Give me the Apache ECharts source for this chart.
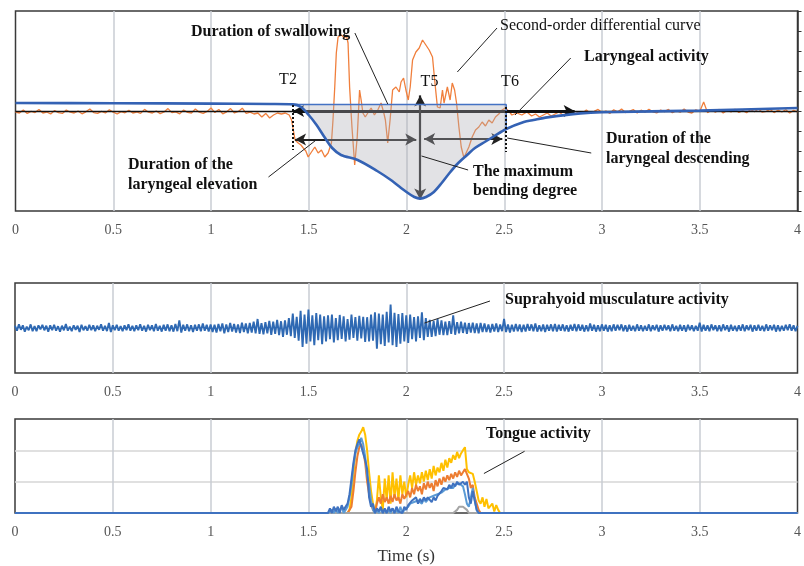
<!DOCTYPE html>
<html><head><meta charset="utf-8">
<script src="https://cdn.jsdelivr.net/npm/echarts@6/dist/echarts.min.js"></script>
<style>html,body{margin:0;padding:0;background:#fff}#c{width:804px;height:566px}</style>
</head><body><div id="c"></div>
<script>
// ---------- DATA ----------
const xTicks = [0, 0.5, 1, 1.5, 2, 2.5, 3, 3.5, 4];
const eventNames = ['T2', 'T5', 'T6'];
const eventTimes = [1.42, 2.07, 2.51];
const shadeTop = 0.33;

// second-order differential curve (orange), top panel
const orangePreStart = 0, orangePreStep = 0.02;
const orangePre = [-0.05,-0.1,0.05,-0.12,-0.02,-0.08,0.08,-0.1,-0.05,-0.15,
  0.02,-0.08,-0.12,0.05,-0.06,-0.1,0.0,-0.14,-0.04,0.1,
  -0.08,-0.12,-0.02,-0.1,0.06,-0.06,-0.15,-0.03,-0.09,0.04,
  -0.1,-0.05,-0.12,0.08,-0.06,-0.1,0.0,-0.13,-0.05,0.12,
  -0.08,-0.04,-0.14,0.05,-0.07,-0.1,0.1,-0.06,-0.12,-0.02,
  0.15,-0.08,0.08,-0.14,-0.04,0.12,-0.1,-0.02,0.14,-0.12,
  -0.06,-0.15,-0.1,-0.3,-0.12,-0.35,-0.2,-0.1];
const orangeActive = [[1.36,-0.15],[1.38,-0.1],[1.40,-0.2],[1.412,-0.45],[1.421,-0.95],[1.43,-1.45],[1.446,-1.6],[1.46,-1.7],[1.472,-1.85],[1.485,-2.0],[1.497,-2.3],[1.514,-2.05],[1.531,-1.8],[1.548,-2.1],[1.565,-1.95],[1.582,-2.3],[1.599,-2.1],[1.616,-1.6],[1.624,-0.45],[1.633,1.2],[1.641,2.9],[1.650,3.7],[1.667,3.8],[1.684,3.65],[1.692,3.8],[1.701,3.4],[1.709,1.2],[1.721,-0.8],[1.735,-2.7],[1.748,-1.3],[1.760,1.05],[1.768,0.55],[1.777,-0.1],[1.789,-0.3],[1.802,-0.1],[1.819,0.15],[1.836,-0.2],[1.853,0.05],[1.870,0.4],[1.884,-0.1],[1.892,-0.45],[1.904,-1.6],[1.916,-0.45],[1.929,1.05],[1.946,1.2],[1.963,0.95],[1.972,1.45],[1.985,1.65],[1.997,1.05],[2.009,0.55],[2.019,1.2],[2.031,2.55],[2.048,2.95],[2.065,3.15],[2.082,3.55],[2.099,3.3],[2.116,3.05],[2.133,2.7],[2.144,1.55],[2.158,0.2],[2.172,0.15],[2.184,1.05],[2.192,0.4],[2.209,1.2],[2.223,0.55],[2.234,1.4],[2.246,1.05],[2.256,0.4],[2.268,-0.8],[2.280,-1.8],[2.294,-2.35],[2.307,-2.05],[2.319,-1.8],[2.336,-1.3],[2.353,-0.95],[2.370,-0.8],[2.387,-0.55],[2.404,-0.75],[2.421,-0.45],[2.438,-0.6],[2.455,-0.3],[2.472,-0.15],[2.489,0.05],[2.505,0.15],[2.523,0.0],[2.539,-0.2],[2.565,-0.1],[2.590,-0.2],[2.616,-0.05]];
const orangePostStart = 2.64, orangePostStep = 0.02;
const orangePost = [-0.25,-0.15,-0.3,-0.2,-0.1,-0.25,-0.15,-0.05,-0.2,-0.1,0.0,-0.15,-0.05,-0.1,
  0.05,-0.1,-0.02,0.08,-0.08,0.0,-0.12,0.06,-0.05,0.1,
  -0.08,-0.02,0.07,-0.1,0.04,-0.06,0.09,-0.04,-0.1,0.05,
  -0.03,0.08,-0.09,0.02,-0.06,0.1,-0.05,-0.1,0.06,-0.02,
  0.45,-0.08,0.05,-0.06,0.08,-0.1,0.03,-0.05,0.09,-0.07,
  0.02,-0.09,0.07,-0.04,0.1,-0.06,-0.02,0.08,-0.08,0.04,
  -0.05,0.06,-0.1,0.03,-0.04];

// laryngeal activity (blue), top panel
const laryngeal = [[0,0.4],[0.5,0.39],[1.0,0.37],[1.3,0.35],[1.42,0.33],[1.46,0.2],[1.5,-0.2],[1.54,-0.7],[1.58,-1.3],[1.62,-1.85],[1.665,-2.2],[1.75,-2.45],[1.85,-3.0],[1.92,-3.45],[2.0,-4.05],[2.04,-4.3],[2.07,-4.38],[2.1,-4.3],[2.14,-4.05],[2.18,-3.6],[2.22,-3.1],[2.26,-2.65],[2.31,-2.2],[2.35,-1.85],[2.40,-1.55],[2.45,-1.25],[2.51,-0.9],[2.6,-0.55],[2.65,-0.45],[2.72,-0.32],[2.89,-0.12],[3.0,-0.06],[3.5,0.02],[4.0,0.15]];

// suprahyoid musculature activity (EMG), middle panel, sampled every 0.01 s
const emgStart = 0, emgStep = 0.01;
const emg = [
  0.05,-0.06,0.08,-0.04,0.06,-0.08,0.03,-0.05,0.08,-0.07,0.04,-0.07,0.06,-0.03,0.07,-0.05,0.05,-0.08,0.06,-0.05,
  0.07,-0.06,0.04,-0.08,0.05,-0.05,0.09,-0.06,0.03,-0.07,0.06,-0.04,0.05,-0.09,0.07,-0.05,0.04,-0.06,0.07,-0.05,
  0.06,-0.07,0.05,-0.04,0.08,-0.06,0.05,-0.07,0.11,-0.09,0.06,-0.05,0.07,-0.06,0.04,-0.07,0.06,-0.05,0.08,-0.06,
  0.05,-0.07,0.06,-0.05,0.08,-0.06,0.05,-0.08,0.07,-0.05,0.06,-0.07,0.09,-0.06,0.05,-0.08,0.07,-0.06,0.08,-0.07,
  0.06,-0.08,0.09,-0.07,0.17,-0.1,0.07,-0.06,0.08,-0.07,0.06,-0.09,0.07,-0.06,0.08,-0.07,0.1,-0.06,0.07,-0.08,
  0.08,-0.09,0.07,-0.1,0.09,-0.07,0.1,-0.12,0.08,-0.09,0.11,-0.08,0.09,-0.1,0.08,-0.11,0.12,-0.09,0.1,-0.12,
  0.11,-0.1,0.14,-0.12,0.2,-0.13,0.11,-0.14,0.13,-0.12,0.16,-0.15,0.14,-0.13,0.18,-0.16,0.15,-0.2,0.17,-0.15,
  0.22,-0.18,0.32,-0.22,0.25,-0.28,0.38,-0.42,0.3,-0.35,0.41,-0.3,0.28,-0.38,0.33,-0.27,0.3,-0.36,0.26,-0.3,
  0.28,-0.25,0.3,-0.32,0.22,-0.27,0.29,-0.24,0.26,-0.3,0.2,-0.26,0.3,-0.22,0.24,-0.28,0.27,-0.23,0.25,-0.31,
  0.24,-0.3,0.3,-0.28,0.35,-0.46,0.32,-0.36,0.3,-0.4,0.36,-0.32,0.52,-0.38,0.34,-0.42,0.31,-0.35,0.33,-0.3,
  0.28,-0.33,0.3,-0.25,0.24,-0.3,0.26,-0.22,0.35,-0.27,0.22,-0.2,0.18,-0.2,0.16,-0.18,0.2,-0.15,0.17,-0.16,
  0.14,-0.16,0.15,-0.13,0.28,-0.15,0.13,-0.12,0.14,-0.11,0.12,-0.13,0.11,-0.1,0.12,-0.11,0.1,-0.12,0.11,-0.09,
  0.1,-0.09,0.08,-0.1,0.09,-0.08,0.1,-0.09,0.08,-0.07,0.2,-0.09,0.08,-0.1,0.07,-0.08,0.09,-0.07,0.08,-0.09,
  0.07,-0.08,0.09,-0.06,0.08,-0.07,0.1,-0.08,0.06,-0.07,0.08,-0.09,0.07,-0.06,0.08,-0.07,0.09,-0.08,0.07,-0.06,
  0.08,-0.07,0.06,-0.08,0.07,-0.06,0.09,-0.07,0.08,-0.06,0.07,-0.08,0.06,-0.07,0.1,-0.06,0.07,-0.08,0.06,-0.07,
  0.08,-0.06,0.07,-0.08,0.06,-0.07,0.08,-0.06,0.07,-0.05,0.08,-0.07,0.06,-0.08,0.07,-0.06,0.05,-0.07,0.08,-0.06,
  0.06,-0.07,0.05,-0.06,0.08,-0.07,0.06,-0.05,0.07,-0.08,0.06,-0.06,0.07,-0.05,0.06,-0.07,0.08,-0.06,0.05,-0.07,
  0.07,-0.06,0.06,-0.08,0.07,-0.05,0.06,-0.07,0.05,-0.06,0.12,-0.08,0.07,-0.06,0.06,-0.07,0.08,-0.05,0.06,-0.07,
  0.06,-0.07,0.08,-0.05,0.06,-0.08,0.07,-0.06,0.05,-0.07,0.06,-0.06,0.08,-0.07,0.06,-0.05,0.07,-0.08,0.06,-0.06,
  0.07,-0.06,0.05,-0.07,0.08,-0.06,0.06,-0.05,0.07,-0.08,0.06,-0.07,0.05,-0.06,0.07,-0.05,0.08,-0.06,0.06,-0.07,
  0.05];

// tongue activity, bottom panel, sampled every 0.01 s from 1.60 s to 2.50 s
const tongueStart = 1.60, tongueStep = 0.01;
const tongueYellow = [0,0,0,0,0,0,0,0,0,0,
  0,0.1,0.5,1.2,1.9,2.3,2.5,2.6,2.74,2.5,
  2.0,1.3,0.7,0.3,0,0.4,1.2,0.5,0.1,1.1,
  0.4,1.2,0.3,1.3,0.5,1.1,0.4,1.2,0.6,1.0,
  0.5,0.9,1.2,0.8,1.3,0.9,1.2,0.95,1.3,1.0,
  1.35,1.05,1.4,1.1,1.5,1.2,1.45,1.3,1.6,1.35,
  1.7,1.45,1.75,1.6,1.85,1.7,1.95,1.75,1.9,2.0,
  2.1,1.4,1.3,1.35,1.25,1.0,0.7,0.4,0.3,0.5,
  0.2,0.45,0.15,0.1,0.3,0.05,0.25,0.1,0,0,
  0];
const tongueOrange = [0,0,0,0,0,0,0,0,0,0,
  0,0,0.2,0.7,1.3,1.8,2.1,2.2,2.0,1.6,
  1.0,0.6,0.3,0.1,0,0.3,0.5,0.3,0.6,0.35,
  0.5,0.3,0.55,0.35,0.6,0.4,0.5,0.3,0.6,0.45,
  0.5,0.7,0.5,0.8,0.6,0.9,0.7,0.85,0.6,0.95,
  0.75,1.0,0.8,0.95,0.7,1.05,0.85,1.1,0.9,1.15,
  1.0,1.2,1.05,1.25,1.1,1.3,1.15,1.35,1.2,1.3,
  1.4,1.42,1.1,0.8,0.9,0.5,0.3,0.1,0,0,
  0,0,0,0,0,0,0,0,0,0,
  0];
const tongueGray = [0,0,0,0,0,0,0,0,0,0,
  0,0,0,0,0,0,0,0,0,0,
  0,0,0,0,0,0,0,0,0,0,
  0,0,0,0,0,0,0,0,0,0,
  0,0,0,0,0,0,0,0,0,0,
  0,0,0,0,0,0,0,0,0,0,
  0,0,0,0,0,0,0.1,0.2,0.15,0.2,
  0.2,0.1,0,0,0,0,0,0,0,0,
  0,0,0,0,0,0,0,0,0,0,
  0];
const tongueBlue = [0,0.15,0,0.2,0.05,0.2,0,0.25,0.1,0.15,
  0.3,0.6,1.1,1.6,2.0,2.2,2.35,2.3,1.9,1.7,
  1.4,0.5,0.2,0.3,0,0.15,0.05,0.2,0,0.15,
  0,0.2,0.05,0.15,0,0.2,0.05,0.1,0,0.2,
  0.1,0.25,0.3,0.4,0.35,0.5,0.3,0.45,0.35,0.5,
  0.4,0.5,0.45,0.35,0.5,0.4,0.55,0.6,0.7,0.8,
  0.85,0.75,0.9,0.8,0.95,0.85,1.0,0.9,0.95,1.0,
  0.9,1.0,0.5,0.3,0.7,0.75,0.1,0,0,0,
  0,0,0,0,0,0,0,0,0,0,
  0];
const tongueLightBlue = [0,0,0.1,0,0.15,0,0.1,0.2,0,0.1,
  0.2,0.5,0.9,1.5,1.9,2.1,2.2,2.4,2.2,1.8,
  1.2,0.9,0.4,0.1,0,0.1,0,0.15,0,0.1,
  0,0.1,0,0.15,0,0.1,0,0.2,0,0.1,
  0.15,0.2,0.3,0.25,0.35,0.3,0.4,0.35,0.3,0.45,
  0.35,0.4,0.5,0.45,0.55,0.5,0.6,0.55,0.65,0.7,
  0.75,0.7,0.8,0.85,0.8,0.9,0.85,0.95,0.9,0.85,
  0.6,0.3,0.2,0.5,0.8,0.4,0.1,0,0,0,
  0,0,0,0,0,0,0,0,0,0,
  0];

// ---------- BUILD ----------
function sampled(start, step, vals) { return vals.map((v, i) => [+(start + i * step).toFixed(4), v]); }
const orangeData = sampled(orangePreStart, orangePreStep, orangePre).concat(orangeActive, sampled(orangePostStart, orangePostStep, orangePost));
const emgData = sampled(emgStart, emgStep, emg);
const tongue = vals => [[xTicks[0], 0]].concat(sampled(tongueStart, tongueStep, vals), [[xTicks[xTicks.length - 1], 0]]);
const [T2, T5, T6] = eventTimes;
const shadeData = laryngeal.filter(p => p[0] >= T2 && p[0] <= T6);
const blueAtT6 = laryngeal.find(p => p[0] === T6)[1];

const SERIF = '"Liberation Serif","Times New Roman",serif';
const BOLD = 'bold 16px ' + SERIF;

function ml(lines, style, sym, z) {
  return {
    silent: true, z: z, symbol: sym, symbolSize: [9, 11], label: { show: false },
    lineStyle: style, emphasis: { disabled: true },
    data: lines.map(l => [{ coord: l[0] }, { coord: l[1] }])
  };
}
function holder(xi, yi, z, markLine) {
  return { type: 'line', xAxisIndex: xi, yAxisIndex: yi, z: z, data: [[0, 0]], showSymbol: false, lineStyle: { width: 0 }, silent: true, markLine: markLine };
}

const xAxisBase = (gi) => ({
  gridIndex: gi, type: 'value', min: xTicks[0], max: xTicks[xTicks.length - 1], interval: xTicks[1] - xTicks[0],
  axisLine: { show: false, onZero: false }, axisTick: { show: false },
  splitLine: { show: true, showMinLine: false, showMaxLine: false, lineStyle: { color: '#c9ccd3', width: 1.5 } },
  axisLabel: { fontFamily: SERIF, fontSize: 14, color: '#555', margin: 12, showMaxLabel: true, showMinLabel: true }
});

const option = {
  animation: false,
  backgroundColor: '#fff',
  grid: [
    { left: 15.5, right: 2.3, top: 11, height: 200, show: true, borderColor: '#3a3a3a', borderWidth: 1.5 },
    { left: 15, right: 2, top: 283, height: 90, show: true, borderColor: '#3a3a3a', borderWidth: 1.5 },
    { left: 15, right: 2, top: 419, height: 94, show: true, borderColor: '#3a3a3a', borderWidth: 1.5 }
  ],
  xAxis: [
    xAxisBase(0),
    xAxisBase(1),
    Object.assign(xAxisBase(2), { name: 'Time (s)', nameLocation: 'middle', nameGap: 35,
      nameTextStyle: { fontFamily: SERIF, fontSize: 17, color: '#333' } })
  ],
  yAxis: [
    { gridIndex: 0, type: 'value', position: 'right', min: -5, max: 5, interval: 1,
      axisLine: { show: true, onZero: false, lineStyle: { color: '#333', width: 1.5 } },
      axisTick: { show: true, inside: false, length: 4, lineStyle: { color: '#333', width: 1 } },
      axisLabel: { show: false }, splitLine: { show: false } },
    { gridIndex: 1, type: 'value', min: -1, max: 1, axisLine: { show: false, onZero: false }, axisTick: { show: false }, axisLabel: { show: false }, splitLine: { show: false } },
    { gridIndex: 2, type: 'value', min: 0, max: 3, interval: 1, axisLine: { show: false, onZero: false }, axisTick: { show: false }, axisLabel: { show: false },
      splitLine: { show: true, showMinLine: false, showMaxLine: false, lineStyle: { color: '#d6d6d6', width: 1.5 } } }
  ],
  series: [
    // top panel
    { name: 'Second-order differential curve', type: 'line', xAxisIndex: 0, yAxisIndex: 0, z: 2, data: orangeData, showSymbol: false,
      lineStyle: { color: '#F07F3C', width: 1.3 } },
    holder(0, 0, 3, ml([
      [[xTicks[0], 0], [xTicks[xTicks.length - 1], 0]]
    ], { color: '#111', width: 1.3, type: 'solid' }, 'none', 3)),
    holder(0, 0, 3, ml([
      [[T2, 0], [2.86, 0]],
    ], { color: '#111', width: 3, type: 'solid' }, ['arrow', 'arrow'], 3)),
    holder(0, 0, 3, ml([
      [[T2 + 0.01, -1.42], [T5 - 0.02, -1.42]],
      [[T5 + 0.02, -1.4], [T6 - 0.02, -1.4]],
      [[T5, 0.78], [T5, -4.42]]
    ], { color: '#222', width: 2.2, type: 'solid' }, ['arrow', 'arrow'], 3)),
    holder(0, 0, 3, ml([
      [[T2, 0.3], [T2, -1.95]],
      [[T6, 0.2], [T6, -2.05]]
    ], { color: '#111', width: 2, type: [2, 2] }, 'none', 7)),
    { name: 'shade', type: 'line', xAxisIndex: 0, yAxisIndex: 0, z: 4, data: shadeData, showSymbol: false, smooth: 0.3, silent: true,
      lineStyle: { width: 0 }, areaStyle: { origin: shadeTop, color: 'rgba(172,172,180,0.5)' } },
    { name: 'shadeEdge', type: 'line', xAxisIndex: 0, yAxisIndex: 0, z: 5, showSymbol: false, silent: true,
      data: [[T2, shadeTop], [T6, shadeTop], [T6, blueAtT6]], lineStyle: { color: '#4472C4', width: 1.5 } },
    { name: 'Laryngeal activity', type: 'line', xAxisIndex: 0, yAxisIndex: 0, z: 6, data: laryngeal, showSymbol: false, smooth: 0.3,
      lineStyle: { color: '#3462b4', width: 2.6 } },
    holder(0, 0, 7, ml([
      [[1.736, 3.9], [1.904, 0.35]],
      [[2.463, 4.15], [2.26, 1.95]],
      [[2.84, 2.65], [2.555, -0.2]],
      [[2.945, -2.1], [2.515, -1.35]],
      [[2.315, -2.95], [2.077, -2.25]],
      [[1.294, -3.3], [1.538, -1.45]]
    ], { color: '#222', width: 1, type: 'solid' }, 'none', 7)),
    // middle panel
    { name: 'Suprahyoid musculature activity', type: 'line', xAxisIndex: 1, yAxisIndex: 1, data: emgData, showSymbol: false,
      lineStyle: { color: '#2f69b3', width: 1.9 } },
    holder(1, 1, 7, ml([[[2.428, 0.6], [2.093, 0.11]]], { color: '#222', width: 1, type: 'solid' }, 'none', 7)),
    // bottom panel
    { type: 'line', xAxisIndex: 2, yAxisIndex: 2, data: tongue(tongueYellow), showSymbol: false, lineStyle: { color: '#FFC000', width: 2 } },
    { type: 'line', xAxisIndex: 2, yAxisIndex: 2, data: tongue(tongueOrange), showSymbol: false, lineStyle: { color: '#ED7D31', width: 2 } },
    { type: 'line', xAxisIndex: 2, yAxisIndex: 2, data: tongue(tongueGray), showSymbol: false, lineStyle: { color: '#A5A5A5', width: 2 } },
    { type: 'line', xAxisIndex: 2, yAxisIndex: 2, data: tongue(tongueLightBlue), showSymbol: false, lineStyle: { color: '#5B9BD5', width: 2 } },
    { type: 'line', xAxisIndex: 2, yAxisIndex: 2, data: tongue(tongueBlue), showSymbol: false, lineStyle: { color: '#3f72c0', width: 2 } },
    holder(2, 2, 7, ml([[[2.605, 1.97], [2.397, 1.26]]], { color: '#222', width: 1, type: 'solid' }, 'none', 7))
  ],
  graphic: [
    { type: 'text', x: 191, y: 32, z: 100, style: { text: 'Duration of swallowing', font: BOLD, fill: '#111', align: 'left', verticalAlign: 'middle' } },
    { type: 'text', x: 500, y: 26, z: 100, style: { text: 'Second-order differential curve', font: '16px ' + SERIF, fill: '#111', align: 'left', verticalAlign: 'middle' } },
    { type: 'text', x: 584, y: 57, z: 100, style: { text: 'Laryngeal activity', font: BOLD, fill: '#111', align: 'left', verticalAlign: 'middle' } },
    { type: 'text', x: 606, y: 149, z: 100, style: { text: 'Duration of the\nlaryngeal descending', font: BOLD, lineHeight: 20, fill: '#111', align: 'left', verticalAlign: 'middle' } },
    { type: 'text', x: 473, y: 181, z: 100, style: { text: 'The maximum\nbending degree', font: BOLD, lineHeight: 19, fill: '#111', align: 'left', verticalAlign: 'middle' } },
    { type: 'text', x: 128, y: 175, z: 100, style: { text: 'Duration of the\nlaryngeal elevation', font: BOLD, lineHeight: 19.5, fill: '#111', align: 'left', verticalAlign: 'middle' } },
    { type: 'text', x: 288, y: 80, z: 100, style: { text: eventNames[0], font: '16px ' + SERIF, fill: '#111', align: 'center', verticalAlign: 'middle' } },
    { type: 'text', x: 429.5, y: 82, z: 100, style: { text: eventNames[1], font: '16px ' + SERIF, fill: '#111', align: 'center', verticalAlign: 'middle' } },
    { type: 'text', x: 510, y: 82, z: 100, style: { text: eventNames[2], font: '16px ' + SERIF, fill: '#111', align: 'center', verticalAlign: 'middle' } },
    { type: 'text', x: 505, y: 300, z: 100, style: { text: 'Suprahyoid musculature activity', font: BOLD, fill: '#111', align: 'left', verticalAlign: 'middle' } },
    { type: 'text', x: 486, y: 434, z: 100, style: { text: 'Tongue activity', font: BOLD, fill: '#111', align: 'left', verticalAlign: 'middle' } }
  ]
};
const chart = echarts.init(document.getElementById('c'), null, { renderer: 'canvas' });
chart.setOption(option);
</script></body></html>
